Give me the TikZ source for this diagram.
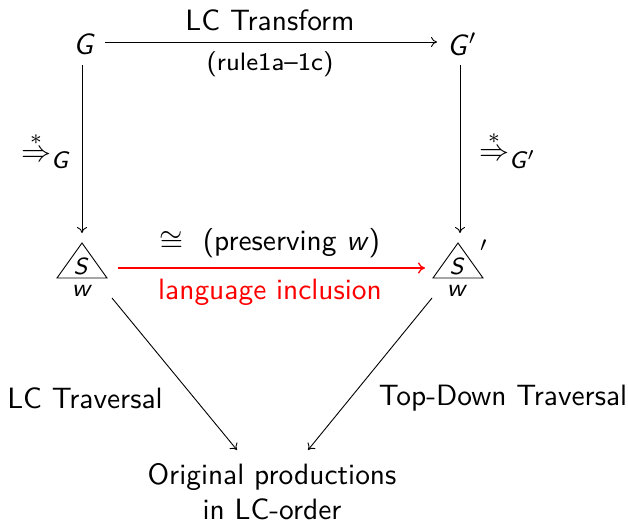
\documentclass[tikz,border=0pt]{standalone}
\usetikzlibrary{arrows.meta}
\renewcommand\familydefault{\sfdefault}
\newcommand\mi[1]{\textit{#1}}
\begin{document}
\begin{tikzpicture}[x=1pt,y=-1pt,
  every node/.style={scale=3, font=\fontsize{9.8}{11.6}\selectfont, inner sep=0pt},
  small/.style={font=\fontsize{8.4}{10}\selectfont},
  tiny/.style={font=\fontsize{7.8}{9.4}\selectfont},
  con/.style={line width=0.9pt, -{To[length=6pt,width=10pt]}},
  redcon/.style={line width=1.3pt, red, -{To[length=7pt,width=11pt]}},
  triline/.style={line width=0.9pt}]
\useasboundingbox (0,0) rectangle (628,524);
\node (G) at (84,44) {\mi{G}};
\node (Gp) at (462,44) {\mi{G}$'$};
\coordinate (a1) at (105,42); \coordinate (a2) at (437,42);
\draw[con] (a1) -- (a2);
\node (lct) at (270,20) {LC Transform};
\node[small] (rule) at (270,64) {(rule1a--1c)};
% triangles
\coordinate (tl1) at (82,243); \coordinate (tl2) at (57,278); \coordinate (tl3) at (107,278);
\draw[triline] (tl1) -- (tl2) -- (tl3) -- cycle;
\node[tiny] (S1) at (81,266) {\mi{S}};
\node[small] (w1) at (82,291) {\mi{w}};
\coordinate (tr1) at (458,243); \coordinate (tr2) at (433,278); \coordinate (tr3) at (483,278);
\draw[triline] (tr1) -- (tr2) -- (tr3) -- cycle;
\node[tiny] (S2) at (457,266) {\mi{S}};
\node[small] (w2) at (457,291) {\mi{w}};
\node (pr) at (484,251) {$'$};
% verticals
\coordinate (vl1) at (82,65); \coordinate (vl2) at (82,233);
\draw[con] (vl1) -- (vl2);
\coordinate (vr1) at (460,65); \coordinate (vr2) at (460,233);
\draw[con] (vr1) -- (vr2);
\node (dl) at (46,150) {$\stackrel{*}{\Rightarrow}_{\mbox{\fontsize{8}{9.6}\selectfont\mi{G}}}$};
\node (dr) at (508,150) {$\stackrel{*}{\Rightarrow}_{\mbox{\fontsize{8}{9.6}\selectfont\mi{G}$'$}}$};
% red
\coordinate (r1) at (118,268); \coordinate (r2) at (425,268);
\draw[redcon] (r1) -- (r2);
\node (iso) at (270,243) {$\cong$\ \ (preserving \mi{w})};
\node[text=red] (li) at (270,292) {language inclusion};
% diagonals
\node[align=center] (orig) at (272,492) {Original productions\\in LC-order};
\coordinate (d1) at (112,298); \coordinate (d2) at (237,450);
\coordinate (d3) at (432,298); \coordinate (d4) at (308,450);
\draw[con] (d1) -- (d2);
\draw[con] (d3) -- (d4);
\node (lct2) at (85,398) {LC Traversal};
\node (tdt) at (503,398) {Top-Down Traversal};
\end{tikzpicture}
\end{document}
